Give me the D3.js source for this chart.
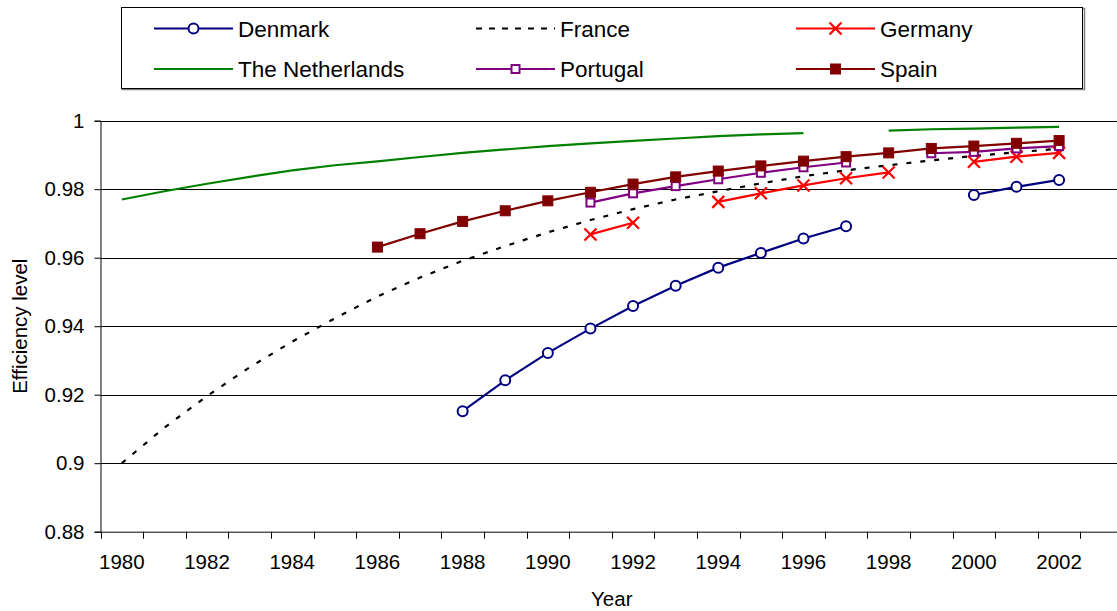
<!DOCTYPE html>
<html>
<head>
<meta charset="utf-8">
<script src="https://cdn.jsdelivr.net/npm/d3@7"></script>
<style>
  html, body { margin: 0; padding: 0; background: #fff; }
  svg { display: block; }
  text { font-family: "Liberation Sans", Arial, sans-serif; fill: #000; }
</style>
</head>
<body>
<svg id="chart" width="1117" height="611"></svg>
<script>
// ---- data ----
const categories = [1980,1981,1982,1983,1984,1985,1986,1987,1988,1989,1990,1991,
                    1992,1993,1994,1995,1996,1997,1998,1999,2000,2001,2002,2003];
const tickLabels = [1980,1982,1984,1986,1988,1990,1992,1994,1996,1998,2000,2002];
const yTicks = [0.88,0.9,0.92,0.94,0.96,0.98,1];

const denmark = [null,null,null,null,null,null,null,null,
  0.9152,0.9242,0.9322,0.9393,0.9459,0.9518,0.9571,0.9614,0.9656,0.9692,
  null,null,0.9783,0.9807,0.9827,null];
const france = [0.9000,0.9104,0.9196,0.9280,0.9355,0.9423,0.9487,0.9542,0.9591,0.9634,
  0.9674,0.9710,0.9742,0.9770,0.9794,0.9817,0.9838,0.9855,0.9870,0.9884,
  0.9897,0.9908,0.9918,null];
const germany = [null,null,null,null,null,null,null,null,null,null,null,
  0.9668,0.9702,null,0.9763,0.9788,0.9811,0.9832,0.9849,null,
  0.9880,0.9895,0.9906,null];
const netherlands = [0.9770,0.9794,0.9816,0.9836,0.9855,0.9870,0.9881,0.9894,0.9906,0.9916,
  0.9926,0.9934,0.9941,0.9948,0.9955,0.9960,0.9964,null,0.9971,0.9975,
  0.9977,0.9980,0.9982,null];
const portugal = [null,null,null,null,null,null,null,null,null,null,null,
  0.9761,0.9788,0.9809,0.9829,0.9848,0.9864,0.9878,null,0.9905,
  0.9909,0.9919,0.9926,null];
const spain = [null,null,null,null,null,null,
  0.9631,0.9670,0.9706,0.9737,0.9766,0.9791,0.9815,0.9836,0.9853,0.9868,0.9882,0.9895,
  0.9906,0.9919,0.9926,0.9934,0.9942,null];

const seriesNames = ["Denmark","France","Germany","The Netherlands","Portugal","Spain"];
const seriesValues = [denmark, france, germany, netherlands, portugal, spain];

(function () {
// ---- styles ----
const styles = {
  "Denmark":         {color:"#000080", marker:"circle"},
  "France":          {color:"#000000", marker:null, dash:"5,9"},
  "Germany":         {color:"#FF0000", marker:"x"},
  "The Netherlands": {color:"#008000", marker:null},
  "Portugal":        {color:"#800080", marker:"hsquare"},
  "Spain":           {color:"#800000", marker:"fsquare"}
};

const svg = d3.select("#chart");
const pLeft = 100.5, pRight = 1123, pTop = 120.7, pBottom = 531.7;

const x = d3.scaleBand().domain(categories).range([pLeft, pRight]).padding(0);
const y = d3.scaleLinear().domain([0.88, 1.0]).range([pBottom, pTop]);
const cx = d => x(d) + x.bandwidth() / 2;

// gridlines
svg.append("g").selectAll("line").data(yTicks.filter(v => v > 0.88)).join("line")
  .attr("x1", pLeft).attr("x2", pRight)
  .attr("y1", d => Math.round(y(d)) + 0.5).attr("y2", d => Math.round(y(d)) + 0.5)
  .attr("stroke", "#000").attr("stroke-width", 1);

// y axis
const yAxis = svg.append("g")
  .attr("transform", `translate(${pLeft},0)`)
  .call(d3.axisLeft(y).tickValues(yTicks).tickSize(6).tickPadding(10)
    .tickFormat(d => String(+d.toFixed(2))));
yAxis.select(".domain").attr("stroke", "#000");
yAxis.selectAll(".tick line").attr("stroke", "#000");
yAxis.selectAll("text").style("font-size", "20.5px")
  .style("font-family", "'Liberation Sans', Arial, sans-serif").attr("fill", "#000");

// x axis
const xAxis = svg.append("g")
  .attr("transform", `translate(0,${pBottom})`)
  .call(d3.axisBottom(x).tickValues([]).tickSizeOuter(0));
xAxis.select(".domain").attr("stroke", "#000");
xAxis.selectAll("line.bt").data(categories).join("line").attr("class", "bt")
  .attr("x1", d => Math.round(x(d)) + 0.5).attr("x2", d => Math.round(x(d)) + 0.5)
  .attr("y1", 0).attr("y2", 7).attr("stroke", "#000");
xAxis.selectAll("text.lbl").data(tickLabels).join("text").attr("class", "lbl")
  .attr("x", d => cx(d)).attr("y", 37)
  .attr("text-anchor", "middle")
  .style("font-size", "20.5px").text(d => d);

// axis titles
svg.append("text").attr("x", (pLeft + pRight) / 2).attr("y", 606)
  .attr("text-anchor", "middle").style("font-size", "20.5px").text("Year");
svg.append("text").attr("transform", `translate(27,${(pTop + pBottom) / 2}) rotate(-90)`)
  .attr("text-anchor", "middle").style("font-size", "20.5px").text("Efficiency level");

// markers
function drawMarker(g, type, color, px, py) {
  if (type === "circle") {
    g.append("circle").attr("cx", px).attr("cy", py).attr("r", 5)
      .attr("fill", "#fff").attr("stroke", color).attr("stroke-width", 2);
  } else if (type === "hsquare") {
    g.append("rect").attr("x", px - 4).attr("y", py - 4).attr("width", 8).attr("height", 8)
      .attr("fill", "#fff").attr("stroke", color).attr("stroke-width", 2);
  } else if (type === "fsquare") {
    g.append("rect").attr("x", px - 5).attr("y", py - 5).attr("width", 10).attr("height", 10)
      .attr("fill", color).attr("stroke", color).attr("stroke-width", 1);
  } else if (type === "x") {
    g.append("path").attr("d", `M${px-6},${py-6}L${px+6},${py+6}M${px-6},${py+6}L${px+6},${py-6}`)
      .attr("stroke", color).attr("stroke-width", 2.2).attr("fill", "none");
  }
}

// series
const plot = svg.append("g");
seriesNames.forEach((name, i) => {
  const vals = seriesValues[i];
  const st = styles[name];
  const pts = categories.map((c, j) => ({c, v: vals[j]}));
  const line = d3.line().defined(d => d.v != null).x(d => cx(d.c)).y(d => y(d.v));
  plot.append("path").datum(pts).attr("d", line)
    .attr("fill", "none").attr("stroke", st.color).attr("stroke-width", 2.2)
    .attr("stroke-dasharray", st.dash || null);
});
seriesNames.forEach((name, i) => {
  const st = styles[name];
  if (!st.marker) return;
  const g = plot.append("g");
  categories.forEach((c, j) => {
    const v = seriesValues[i][j];
    if (v != null) drawMarker(g, st.marker, st.color, cx(c), y(v));
  });
});

// legend
const lg = svg.append("g");
lg.append("rect").attr("x", 122.5).attr("y", 8.5).attr("width", 962).attr("height", 81)
  .attr("fill", "none").attr("stroke", "#808080").attr("stroke-width", 1.5);
lg.append("rect").attr("x", 121.5).attr("y", 7.5).attr("width", 961).attr("height", 81)
  .attr("fill", "#fff").attr("stroke", "#000").attr("stroke-width", 1);
const colX = [154, 476, 796];
const rowY = [28.5, 69];
seriesNames.forEach((name, i) => {
  const st = styles[name];
  const lx = colX[i % 3], ly = rowY[Math.floor(i / 3)];
  lg.append("line").attr("x1", lx).attr("x2", lx + 79).attr("y1", ly).attr("y2", ly)
    .attr("stroke", st.color).attr("stroke-width", 2.2)
    .attr("stroke-dasharray", st.dash ? "6,7" : null);
  if (st.marker) drawMarker(lg, st.marker, st.color, lx + 39.5, ly);
  lg.append("text").attr("x", lx + 84).attr("y", ly + 8)
    .style("font-size", "22.5px").text(name);
});
})();
</script>
</body>
</html>
